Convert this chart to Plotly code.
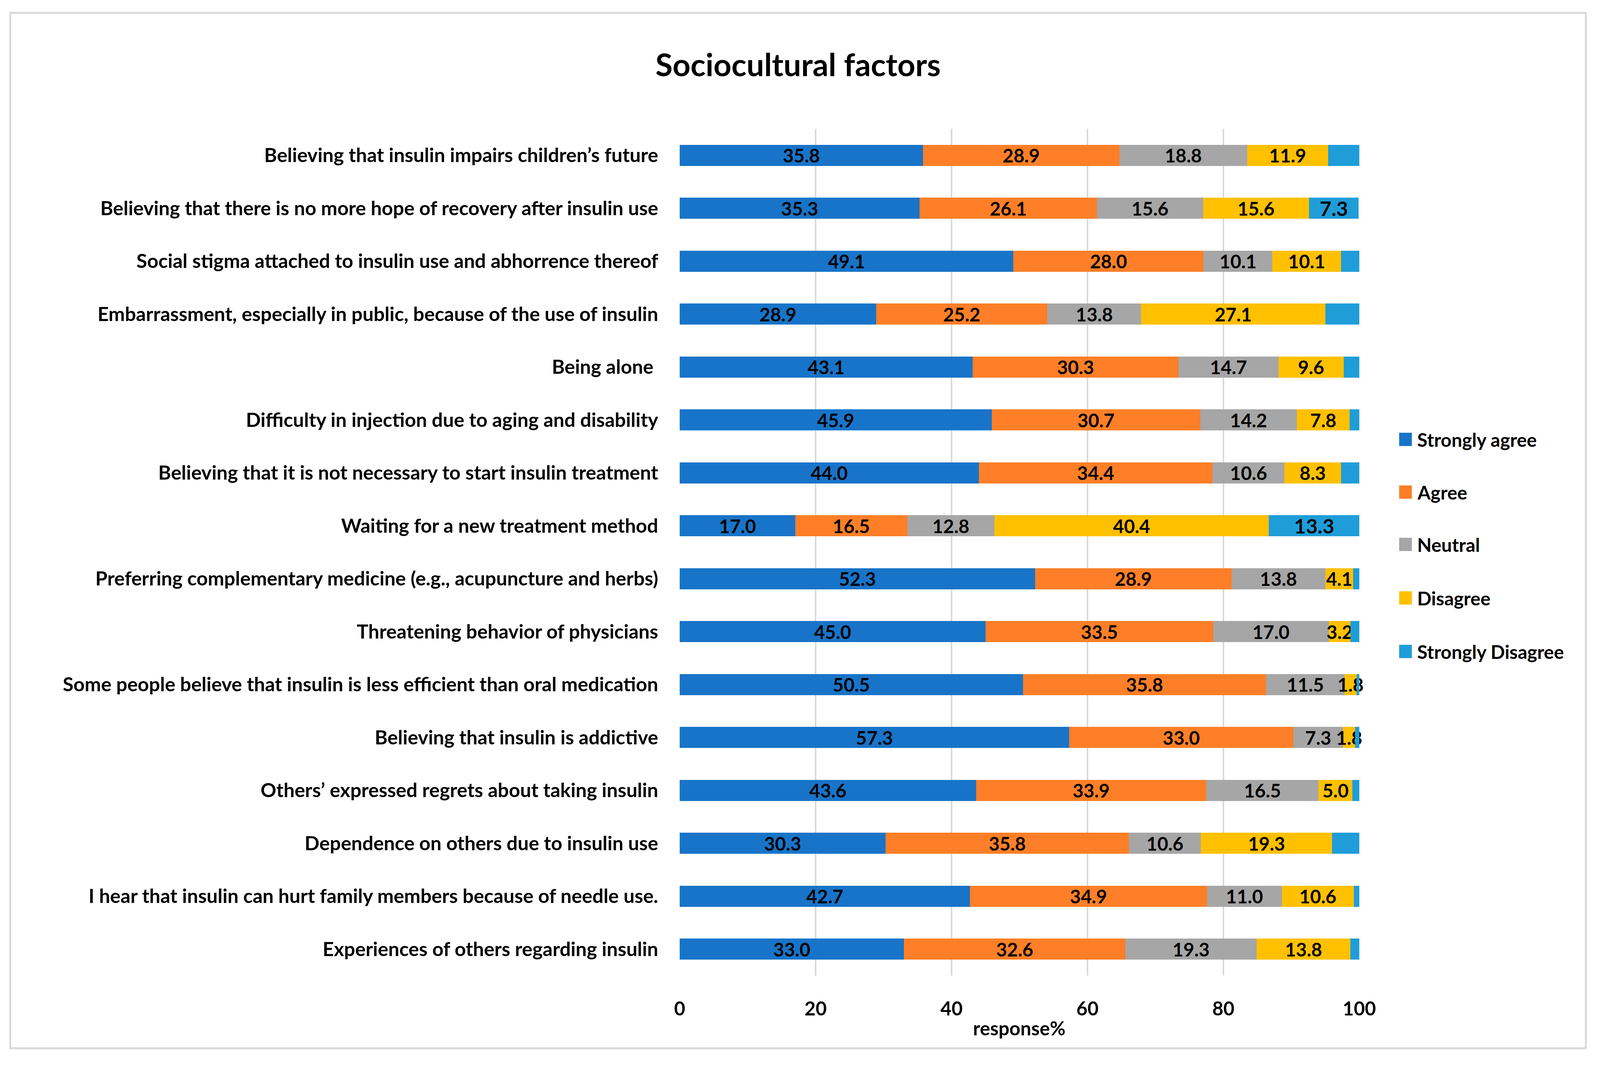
import plotly.graph_objects as go

# ---------------- data ----------------
categories = [
    "Believing that insulin impairs children’s future",
    "Believing that there is no more hope of recovery after insulin use",
    "Social stigma attached to insulin use and abhorrence thereof",
    "Embarrassment, especially in public, because of the use of insulin",
    "Being alone\u00a0",
    "Difficulty in injection due to aging and disability",
    "Believing that it is not necessary to start insulin treatment",
    "Waiting for a new treatment method",
    "Preferring complementary medicine (e.g., acupuncture and herbs)",
    "Threatening behavior of physicians",
    "Some people believe that insulin is less efficient than oral medication",
    "Believing that insulin is addictive",
    "Others’ expressed regrets about taking insulin",
    "Dependence on others due to insulin use",
    "I hear that insulin can hurt family members because of needle use.",
    "Experiences of others regarding insulin",
]
strongly_agree = [35.8, 35.3, 49.1, 28.9, 43.1, 45.9, 44.0, 17.0, 52.3, 45.0, 50.5, 57.3, 43.6, 30.3, 42.7, 33.0]
agree          = [28.9, 26.1, 28.0, 25.2, 30.3, 30.7, 34.4, 16.5, 28.9, 33.5, 35.8, 33.0, 33.9, 35.8, 34.9, 32.6]
neutral        = [18.8, 15.6, 10.1, 13.8, 14.7, 14.2, 10.6, 12.8, 13.8, 17.0, 11.5, 7.3, 16.5, 10.6, 11.0, 19.3]
disagree       = [11.9, 15.6, 10.1, 27.1, 9.6, 7.8, 8.3, 40.4, 4.1, 3.2, 1.8, 1.8, 5.0, 19.3, 10.6, 13.8]
strongly_dis   = [4.6, 7.3, 2.7, 5.0, 2.3, 1.4, 2.7, 13.3, 0.9, 1.3, 0.4, 0.6, 1.0, 4.0, 0.8, 1.3]
# which strongly-disagree labels are printed in the original
sd_label_shown = [False, True, False, False, False, False, False, True,
                  False, False, False, False, False, False, False, False]

series_names = ["Strongly agree", "Agree", "Neutral", "Disagree", "Strongly Disagree"]
series_values = [strongly_agree, agree, neutral, disagree, strongly_dis]
colors = ["#1874C8", "#FE7F27", "#A6A6A6", "#FFC000", "#1F9DD9"]
x_ticks = [0, 20, 40, 60, 80, 100]
title_text = "Sociocultural factors"
x_title = "response%"

# ---------------- layout: positions as fractions of the reference frame ----------------
WREF, HREF = 5784, 2732          # reference frame (pixels)
VW = 4131                        # approx. page width seen by the browser
M = 8                            # default body margin
HF = HREF - 2 * M                # figure height; width follows the window
PL, PR, PT, PB = 2457, 4914, 330, 2498   # plot area in reference pixels
FONT = "Lato, 'Liberation Sans', sans-serif"
FS_CAT = 50
FS_VAL = 48
FS_SD = 52
FS_TICK = 49
FS_LEG = 48
FS_TITLE = 80


def fx(p):
    return (p / WREF * VW - M) / (VW - 2 * M)


def fy(p):
    return 1 - (p - M) / HF


fig = go.Figure()
for name, vals, col in zip(series_names, series_values, colors):
    if name == "Strongly Disagree":
        texts = [f"{v:.1f}" if s else "" for v, s in zip(vals, sd_label_shown)]
        tsize = FS_SD
    else:
        texts = [f"{v:.1f}" for v in vals]
        tsize = FS_VAL
    fig.add_trace(go.Bar(
        y=categories, x=vals, name=name, orientation="h",
        marker=dict(color=col, line=dict(width=0)),
        text=texts, texttemplate="%{text}",
        textposition="inside", insidetextanchor="middle",
        constraintext="none", textangle=0,
        textfont=dict(family=FONT, size=tsize, color="black", weight="bold"),
        cliponaxis=False, showlegend=False,
    ))

fig.update_layout(
    height=HF, autosize=True,
    margin=dict(l=0, r=0, t=0, b=0, pad=0, autoexpand=False),
    barmode="stack", bargap=0.6,
    paper_bgcolor="white", plot_bgcolor="white",
    font=dict(family=FONT, size=FS_CAT, color="black", weight="bold"),
    title=dict(text=title_text, x=fx(2885), y=fy(167), xref="paper", yref="paper",
               xanchor="center", yanchor="middle",
               font=dict(family=FONT, size=FS_TITLE, color="black", weight="bold")),
    xaxis=dict(domain=[fx(PL), fx(PR)], range=[0, 100], tickvals=x_ticks, showgrid=True,
               gridcolor="#D9D9D9", gridwidth=4,
               zeroline=False, showline=False, ticks="", ticklabelstandoff=52,
               tickfont=dict(family=FONT, size=FS_TICK, color="black", weight="bold"), automargin=False),
    yaxis=dict(domain=[fy(PB), fy(PT)], type="category", autorange="reversed", showgrid=False,
               zeroline=False, showline=False, ticks="", ticklabelstandoff=54,
               tickfont=dict(family=FONT, size=FS_CAT, color="black", weight="bold"), automargin=False),
    showlegend=False,
)

shapes = [dict(type="rect", xref="paper", yref="paper", x0=fx(37), x1=fx(5733),
               y0=fy(2684), y1=fy(33), line=dict(color="#D9D9D9", width=5), layer="below")]
annotations = [dict(text=x_title, xref="paper", yref="paper", x=fx((PL + PR) / 2), y=fy(2632),
                    xanchor="center", yanchor="middle", showarrow=False,
                    font=dict(family=FONT, size=FS_TICK, color="black", weight="bold"))]

leg_y = [1125, 1260, 1394, 1531, 1668]
for name, col, yc in zip(series_names, colors, leg_y):
    shapes.append(dict(type="rect", xref="paper", yref="paper", x0=fx(5058), x1=fx(5104),
                       y0=fy(yc + 17), y1=fy(yc - 17), fillcolor=col, line=dict(width=0)))
    annotations.append(dict(text=name, xref="paper", yref="paper", x=fx(5121), y=fy(yc),
                            xanchor="left", yanchor="middle", showarrow=False,
                            font=dict(family=FONT, size=FS_LEG, color="black", weight="bold")))

fig.update_layout(shapes=shapes, annotations=annotations)
fig.write_html("out.html")
